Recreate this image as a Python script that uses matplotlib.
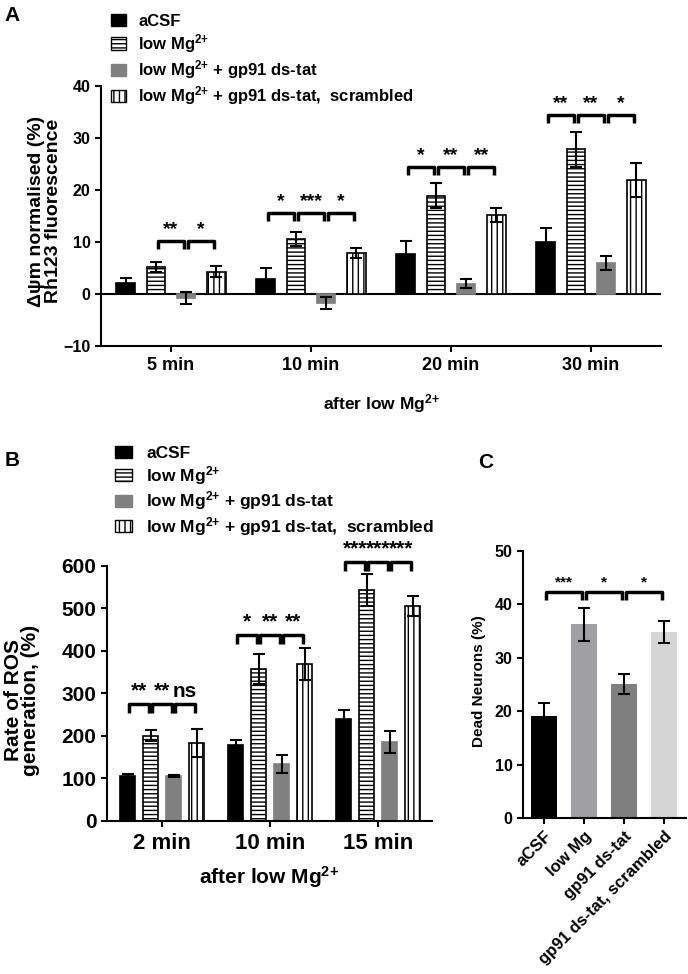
import matplotlib
matplotlib.use('Agg')
import matplotlib.pyplot as plt
from matplotlib.patches import Patch
import numpy as np

plt.rcParams['font.family'] = ['Liberation Sans', 'DejaVu Sans']
plt.rcParams['font.weight'] = 'bold'
plt.rcParams['axes.labelweight'] = 'bold'
plt.rcParams['mathtext.fontset'] = 'custom'
plt.rcParams['mathtext.rm'] = 'Liberation Sans:bold'
plt.rcParams['mathtext.bf'] = 'Liberation Sans:bold'
plt.rcParams['mathtext.default'] = 'bf'
plt.rcParams['hatch.linewidth'] = 1.0

# ---- panel A data
groups_A = ['5 min', '10 min', '20 min', '30 min']
acsf_A = [2.1, 2.9, 7.6, 10.0]
acsf_A_err = [1.0, 2.0, 2.6, 2.7]
lowmg_A = [5.2, 10.6, 18.9, 27.8]
lowmg_A_err = [1.0, 1.4, 2.4, 3.4]
gp91_A = [-0.8, -1.7, 2.0, 6.0]
gp91_A_err = [1.2, 1.2, 0.9, 1.3]
scr_A = [4.3, 7.9, 15.2, 21.9]
scr_A_err = [1.1, 0.9, 1.4, 3.3]
# (group, bar i, bar j, height, label)
sig_A = [(0, 1, 2, 10.2, '**'), (0, 2, 3, 10.2, '*'),
         (1, 0, 1, 15.6, '*'), (1, 1, 2, 15.6, '***'), (1, 2, 3, 15.6, '*'),
         (2, 0, 1, 24.4, '*'), (2, 1, 2, 24.4, '**'), (2, 2, 3, 24.4, '**'),
         (3, 0, 1, 34.4, '**'), (3, 1, 2, 34.4, '**'), (3, 2, 3, 34.4, '*')]

# ---- panel B data
groups_B = ['2 min', '10 min', '15 min']
acsf_B = [107, 178, 240]
acsf_B_err = [4, 13, 21]
lowmg_B = [201, 357, 543]
lowmg_B_err = [13, 35, 37]
gp91_B = [106, 134, 186]
gp91_B_err = [3, 21, 26]
scr_B = [184, 369, 506]
scr_B_err = [33, 37, 23]
sig_B = [(0, 0, 1, 275, '**'), (0, 1, 2, 275, '**'), (0, 2, 3, 275, 'ns'),
         (1, 0, 1, 438, '*'), (1, 1, 2, 438, '**'), (1, 2, 3, 438, '**'),
         (2, 0, 1, 609, '***'), (2, 1, 2, 609, '***'), (2, 2, 3, 609, '***')]

# ---- panel C data
cats_C = ['aCSF', 'low Mg', 'gp91 ds-tat', 'gp91 ds-tat, scrambled']
dead_C = [19.1, 36.3, 25.1, 34.8]
dead_C_err = [2.4, 3.1, 1.8, 2.0]
sig_C = [(0, 1, 42.3, '***'), (1, 2, 42.3, '*'), (2, 3, 42.3, '*')]

legend_labels = ['aCSF', 'low Mg$^{2{+}}$', 'low Mg$^{2{+}}$ + gp91 ds-tat',
                 'low Mg$^{2{+}}$ + gp91 ds-tat,  scrambled']
styles = [dict(facecolor='black', hatch=None),
          dict(facecolor='white', hatch='----'),
          dict(facecolor='#808080', hatch=None),
          dict(facecolor='white', hatch='|||')]
edges = ['black', 'black', '#808080', 'black']


def grouped(ax, series, errs, step, width, ecap):
    for k, (vals, err) in enumerate(zip(series, errs)):
        x = np.arange(len(vals)) + (k - 1.5) * step
        ax.bar(x, vals, width, color=styles[k]['facecolor'], hatch=styles[k]['hatch'],
               edgecolor=edges[k], linewidth=1.2, zorder=2)
        ax.errorbar(x, vals, yerr=err, fmt='none', ecolor='black', elinewidth=1.5,
                    capsize=ecap, capthick=1.5, zorder=3)


def brackets(ax, sig, step, h, dy, fs):
    for g, i, j, y, t in sig:
        x1 = g + (i - 1.5) * step + 0.012
        x2 = g + (j - 1.5) * step - 0.012
        ax.plot([x1, x1, x2, x2], [y - h, y, y, y - h], color='black', lw=2.5,
                clip_on=False, solid_capstyle='butt', zorder=4)
        ax.text((x1 + x2) / 2, y + dy, t, ha='center', va='bottom', fontsize=fs,
                fontweight='bold', clip_on=False)


def style_axes(ax):
    for s in ['top', 'right']:
        ax.spines[s].set_visible(False)
    for s in ['left', 'bottom']:
        ax.spines[s].set_linewidth(1.5)
    ax.tick_params(width=1.5, length=4)


handles = [Patch(facecolor=s['facecolor'], hatch=s['hatch'], edgecolor=e, linewidth=1.0)
           for s, e in zip(styles, edges)]

fig = plt.figure(figsize=(6.88, 9.74), dpi=100)

# ---------------- A
axA = fig.add_axes([0.1468, 0.6448, 0.814, 0.2669])
grouped(axA, [acsf_A, lowmg_A, gp91_A, scr_A],
        [acsf_A_err, lowmg_A_err, gp91_A_err, scr_A_err], 0.215, 0.134, 4.5)
axA.axhline(0, color='black', lw=1.5, zorder=1)
axA.set_xlim(-0.5, 3.5)
axA.set_ylim(-10, 40)
axA.set_yticks([-10, 0, 10, 20, 30, 40])
axA.set_xticks(range(len(groups_A)))
axA.set_xticklabels(groups_A, fontsize=13)
axA.tick_params(axis='y', labelsize=11.5)
style_axes(axA)
axA.tick_params(axis='x', pad=4)
axA.set_xlabel('after low Mg$^{2{+}}$', fontsize=12.5, labelpad=13)
fig.text(45 / 688, 1 - 211 / 974, 'Δψm normalised (%)\nRh123 fluorescence', rotation=90,
         ha='center', va='center', fontsize=14, fontweight='bold', linespacing=1.05)
brackets(axA, sig_A, 0.215, 1.6, 0.5, 14)
fig.legend(handles, legend_labels, loc='upper left', bbox_to_anchor=(0.161, 0.986),
           frameon=False, fontsize=12, handlelength=0.9, handleheight=0.75,
           handletextpad=0.75, labelspacing=0.2, borderaxespad=0, borderpad=0)

# ---------------- B
axB = fig.add_axes([0.1555, 0.1571, 0.4724, 0.2618])
grouped(axB, [acsf_B, lowmg_B, gp91_B, scr_B],
        [acsf_B_err, lowmg_B_err, gp91_B_err, scr_B_err], 0.213, 0.139, 4)
axB.set_xlim(-0.51, 2.5)
axB.set_ylim(0, 600)
axB.set_yticks(range(0, 601, 100))
axB.set_xticks(range(len(groups_B)))
axB.set_xticklabels(groups_B, fontsize=16)
axB.tick_params(axis='y', labelsize=15)
style_axes(axB)
axB.tick_params(axis='x', pad=5)
axB.set_xlabel('after low Mg$^{2{+}}$', fontsize=15, labelpad=7)
fig.text(22 / 688, 0.281, 'Rate of ROS\ngeneration, (%)', rotation=90,
         ha='center', va='center', fontsize=15, fontweight='bold', linespacing=0.92)
brackets(axB, sig_B, 0.213, 21, 8, 15)
fig.legend(handles, legend_labels, loc='upper left', bbox_to_anchor=(0.167, 0.542),
           frameon=False, fontsize=12.5, handlelength=1.0, handleheight=0.7,
           handletextpad=0.8, labelspacing=0.15, borderaxespad=0, borderpad=0)

# ---------------- C
axC = fig.add_axes([0.7602, 0.1602, 0.2369, 0.2741])
colors_C = ['black', '#a0a0a4', '#7f7f7f', '#d6d6d6']
xc = np.arange(len(cats_C))
axC.bar(xc, dead_C, 0.66, color=colors_C, zorder=2)
axC.errorbar(xc, dead_C, yerr=dead_C_err, fmt='none', ecolor='black', elinewidth=1.5,
             capsize=4, capthick=1.5, zorder=3)
axC.set_xlim(-0.52, 3.55)
axC.set_ylim(0, 50)
axC.set_yticks(range(0, 51, 10))
axC.set_xticks(xc)
axC.set_xticklabels(cats_C, rotation=45, ha='right', rotation_mode='anchor', fontsize=12)
axC.tick_params(axis='y', labelsize=11.5)
style_axes(axC)
fig.text(479.5 / 688, 0.301, 'Dead Neurons (%)', rotation=90, ha='center', va='center',
         fontsize=11, fontweight='bold')
for i, j, y, t in sig_C:
    x1, x2 = i + 0.05, j - 0.05
    axC.plot([x1, x1, x2, x2], [y - 1.5, y, y, y - 1.5], color='black', lw=2.5,
             solid_capstyle='butt', zorder=4)
    axC.text((x1 + x2) / 2, y + 0.5, t, ha='center', va='bottom', fontsize=11,
             fontweight='bold')

fig.text(0.006, 0.994, 'A', fontsize=15, fontweight='bold', va='top')
fig.text(0.006, 0.537, 'B', fontsize=15, fontweight='bold', va='top')
fig.text(0.695, 0.535, 'C', fontsize=15, fontweight='bold', va='top')

fig.savefig('out.png', dpi=100)
